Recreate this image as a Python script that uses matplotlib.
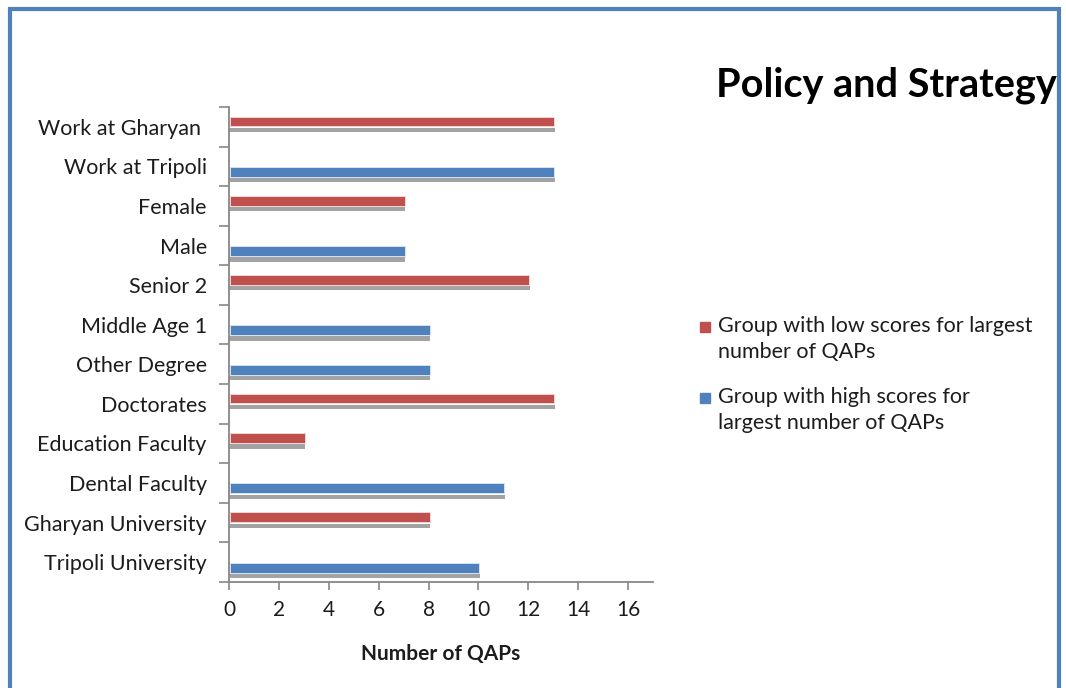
import matplotlib.pyplot as plt
import matplotlib.patches as patches
import numpy as np

plt.rcParams['font.family'] = ['Lato', 'DejaVu Sans']

# categories, bottom to top
categories = ['Tripoli University', 'Gharyan University', 'Dental Faculty',
              'Education Faculty', 'Doctorates', 'Other Degree', 'Middle Age 1',
              'Senior 2', 'Male', 'Female', 'Work at Tripoli', 'Work at Gharyan ']
low_scores = [0, 8, 0, 3, 13, 0, 0, 12, 0, 7, 0, 13]    # red series
high_scores = [10, 0, 11, 0, 0, 8, 8, 0, 7, 0, 13, 0]   # blue series
legend_labels = ['Group with low scores for largest\nnumber of QAPs',
                 'Group with high scores for\nlargest number of QAPs']

red = '#C0504D'
blue = '#4F81BD'
shadow = '#A3A3A3'
axis_col = '#878787'
txt = '#1c1c1c'

fig = plt.figure(figsize=(10.66, 6.88), dpi=100)
W, H = 1066, 688
ax = fig.add_axes([229 / W, 1 - 582 / H, (653 - 229) / W, (582 - 107) / H])

y = np.arange(len(categories))
h = 0.25
off = 0.135
sh = 0.11    # shadow thickness
sd = 0.215   # shadow drop below bar centre

low = np.array(low_scores, dtype=float)
high = np.array(high_scores, dtype=float)

# each series: gray shadow first, coloured bar on top (zeros skipped)
for vals, sign, col, edge in [(low, 1, red, '#f2d6d5'), (high, -1, blue, '#d8e3f0')]:
    m = vals > 0
    ax.barh(y[m] + sign * off - sd, vals[m] + 0.06, height=sh, color=shadow, zorder=1)
    ax.barh(y[m] + sign * off, vals[m], height=h, left=0.04, color=col,
            edgecolor=edge, linewidth=0.7, zorder=2)

ax.set_xlim(0, 17)
ax.set_ylim(-0.5, len(categories) - 0.5)

ax.set_xticks(np.arange(0, 17, 2))
ax.tick_params(axis='x', direction='out', length=6, width=1.2, color=axis_col,
               labelsize=15, labelcolor=txt, pad=7)
ax.set_yticks(np.arange(-0.5, len(categories), 1))
ax.set_yticklabels([])
ax.set_yticks(y, minor=True)
ax.set_yticklabels(categories, minor=True)
ax.tick_params(axis='y', which='major', direction='out', length=7, width=1.2, color=axis_col)
ax.tick_params(axis='y', which='minor', length=0, labelsize=15.5, labelcolor=txt, pad=16)

for s in ['top', 'right']:
    ax.spines[s].set_visible(False)
for s in ['left', 'bottom']:
    ax.spines[s].set_color(axis_col)
    ax.spines[s].set_linewidth(1.3)

ax.set_xlabel('Number of QAPs', fontsize=15, fontweight='bold', color=txt, labelpad=17)

fig.text(1057 / W, 1 - 97 / H, 'Policy and Strategy', ha='right', va='baseline',
         fontsize=28.5, fontweight='bold', color='black')

# legend drawn by hand so the swatch sits on the first text line
for i, (lab, col) in enumerate(zip(legend_labels, [red, blue])):
    ty = 1 - (327 + i * 71) / H
    fig.patches.append(patches.Rectangle((700 / W, ty - 5 / H), 10 / W, 10 / H,
                                         transform=fig.transFigure, color=col))
    fig.text(718 / W, ty + 11 / H, lab, ha='left', va='top', fontsize=15.5, color=txt,
             linespacing=1.4, transform=fig.transFigure)

# outer frame, open at the bottom
fig.patches.append(patches.Rectangle((9.5 / W, -0.05), (1059 - 9.5) / W, 1.05 - 9.5 / H,
                                     transform=fig.transFigure, fill=False,
                                     edgecolor='#4F81BD', linewidth=3))

fig.savefig('out.png', dpi=100)
